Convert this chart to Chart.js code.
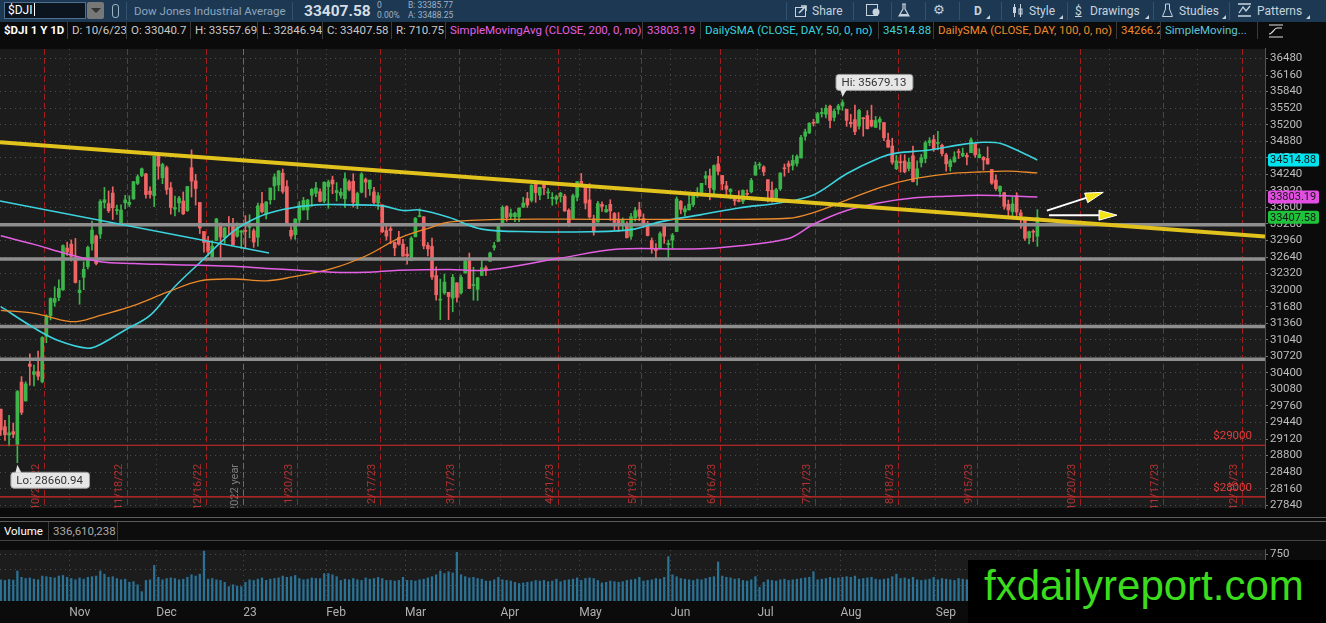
<!DOCTYPE html>
<html>
<head>
<meta charset="utf-8">
<script src="https://cdn.jsdelivr.net/npm/chart.js@4.4.0/dist/chart.umd.min.js"></script>
<style>
  body { margin: 0; width: 1326px; height: 623px; overflow: hidden; position: relative; background: #0b0b0b;
         font-family: Roboto, 'Open Sans', sans-serif; }
  .abs { position: absolute; white-space: nowrap; }
  #bar1 { left: 0; top: 0; width: 1326px; height: 22px; background: #1c3853; }
  #bar2 { left: 0; top: 22px; width: 1326px; height: 18px; background: #0b0b0b; }
  .sep1 { position: absolute; top: 2px; width: 1px; height: 18px; background: #34516d; }
  .seg { position: absolute; top: 0; height: 17px; border-right: 1px solid #3a3a3a; overflow: hidden;
         font-size: 11.5px; line-height: 17px; color: #c9c9c9; padding-left: 4px; box-sizing: border-box; }
  .tb { position: absolute; top: 3px; font-size: 12px; line-height: 16px; color: #c6d3df; }
  .corner { position: absolute; top: 15px; width: 0; height: 0; border-left: 4px solid transparent; border-bottom: 4px solid #c6d3df; }
  .small { font-size: 8.5px; line-height: 9.5px; color: #9fb2c4; }
  #volhdr { left: 0; top: 522px; width: 1326px; height: 19px; background: #0d0d0d; border-bottom: 1px solid #444; box-sizing: border-box; }
  #wm { left: 968px; top: 560px; width: 358px; height: 63px; background: #000; }
  #wm span { position: absolute; left: 16px; top: 2px; font-family: 'Liberation Sans', Arial, sans-serif; font-size: 42px; color: #3bdc1e; }
</style>
</head>
<body>

<div id="bar1" class="abs">
  <div class="abs" style="left:4px;top:2px;width:82px;height:17px;background:#0c141d;border:1px solid #50708f;box-sizing:border-box;"></div>
  <div class="abs" style="left:8px;top:3px;font-size:12px;color:#fff;">$DJI<span style="display:inline-block;width:1px;height:13px;background:#fff;vertical-align:-2px;margin-left:1px"></span></div>
  <div class="abs" style="left:87px;top:2px;width:17px;height:17px;background:#777;border-radius:2px;"></div>
  <div class="abs" style="left:91px;top:8px;width:0;height:0;border-left:5px solid transparent;border-right:5px solid transparent;border-top:5px solid #333;"></div>
  <div class="abs" style="left:112px;top:4px;width:5px;height:12px;border:1px solid #9fb2c4;border-radius:3px;"></div>
  <div class="sep1" style="left:126px"></div>
  <div class="tb" style="left:134px;font-size:11.5px;color:#8ea5bc;">Dow Jones Industrial Average</div>
  <div class="sep1" style="left:292px"></div>
  <div class="tb" style="left:304px;top:1px;font-size:15.5px;line-height:20px;font-weight:bold;color:#d5dde5;">33407.58</div>
  <div class="abs small" style="left:377px;top:1px;">0<br>0.00%</div>
  <div class="abs small" style="left:408px;top:1px;">B: 33385.77<br>A: 33488.25</div>

  <div class="sep1" style="left:786px"></div>
  <svg class="abs" style="left:795px;top:4px" width="13" height="13" viewBox="0 0 13 13"><rect x="0.5" y="3.5" width="10" height="9" fill="none" stroke="#c6d3df"/><path d="M4 9 L10 3 M6 2 L11 2 L11 7" stroke="#c6d3df" stroke-width="1.6" fill="none"/></svg>
  <div class="tb" style="left:812px;">Share</div>
  <div class="sep1" style="left:853px"></div>
  <svg class="abs" style="left:866px;top:4px" width="14" height="13" viewBox="0 0 14 13"><rect x="0.5" y="0.5" width="11" height="11" fill="none" stroke="#c6d3df"/><circle cx="10" cy="8" r="3.5" fill="#c6d3df"/></svg>
  <div class="sep1" style="left:891px"></div>
  <svg class="abs" style="left:898px;top:3px" width="12" height="15" viewBox="0 0 12 15"><path d="M4 1 L8 1 M5 1 L5 6 L1 13 L11 13 L7 6 L7 1" stroke="#c6d3df" fill="none" stroke-width="1.2"/><path d="M2.5 11 L9.5 11 L10.5 13 L1.5 13 Z" fill="#c6d3df"/></svg>
  <div class="sep1" style="left:925px"></div>
  <div class="tb" style="left:933px;top:2px;font-family:'DejaVu Sans';font-size:13px;">&#9881;</div>
  <div class="sep1" style="left:959px"></div>
  <div class="tb" style="left:974px;font-weight:bold;font-size:12px;">D</div>
  <div class="corner" style="left:986px"></div>
  <div class="sep1" style="left:1001px"></div>
  <svg class="abs" style="left:1012px;top:4px" width="11" height="13" viewBox="0 0 11 13"><path d="M2.5 0 L2.5 13 M8.5 0 L8.5 13" stroke="#c6d3df"/><rect x="1" y="3" width="3" height="6" fill="#c6d3df"/><rect x="7" y="5" width="3" height="5" fill="none" stroke="#c6d3df"/></svg>
  <div class="tb" style="left:1029px;">Style</div>
  <div class="corner" style="left:1059px"></div>
  <div class="sep1" style="left:1067px"></div>
  <div class="tb" style="left:1075px;text-decoration:underline;">$</div>
  <div class="tb" style="left:1090px;">Drawings</div>
  <div class="corner" style="left:1145px"></div>
  <div class="sep1" style="left:1153px"></div>
  <svg class="abs" style="left:1162px;top:3px" width="11" height="15" viewBox="0 0 11 15"><path d="M3.5 1 L3.5 6 L0.5 13.5 L10.5 13.5 L7.5 6 L7.5 1 Z" stroke="#c6d3df" fill="none"/></svg>
  <div class="tb" style="left:1179px;">Studies</div>
  <div class="corner" style="left:1222px"></div>
  <div class="sep1" style="left:1229px"></div>
  <svg class="abs" style="left:1237px;top:3px" width="15" height="14" viewBox="0 0 15 14"><path d="M1 1 L14 1 M1 13 L14 13 M2 10 L6 4 L9 8 L13 3" stroke="#c6d3df" fill="none" stroke-width="1.3"/></svg>
  <div class="tb" style="left:1257px;">Patterns</div>
  <div class="corner" style="left:1306px"></div>
</div>

<div id="bar2" class="abs">
  <div class="seg" style="left:0;width:68px;color:#fff;font-weight:bold;">$DJI 1 Y 1D</div>
  <div class="seg" style="left:68px;width:59px;">D: 10/6/23</div>
  <div class="seg" style="left:127px;width:64px;">O: 33040.7</div>
  <div class="seg" style="left:191px;width:67px;">H: 33557.69</div>
  <div class="seg" style="left:258px;width:65px;">L: 32846.94</div>
  <div class="seg" style="left:323px;width:69px;">C: 33407.58</div>
  <div class="seg" style="left:392px;width:54px;">R: 710.75</div>
  <div class="seg" style="left:446px;width:197px;color:#e35fe3;">SimpleMovingAvg (CLOSE, 200, 0, no)</div>
  <div class="seg" style="left:643px;width:58px;color:#e35fe3;">33803.19</div>
  <div class="seg" style="left:701px;width:178px;color:#3cd3de;">DailySMA (CLOSE, DAY, 50, 0, no)</div>
  <div class="seg" style="left:879px;width:55px;color:#3cd3de;">34514.88</div>
  <div class="seg" style="left:934px;width:183px;color:#ec8a2c;">DailySMA (CLOSE, DAY, 100, 0, no)</div>
  <div class="seg" style="left:1117px;width:44px;color:#ec8a2c;">34266.2</div>
  <div class="seg" style="left:1161px;width:97px;color:#5fc4d6;">SimpleMoving...</div>
  <svg class="abs" style="left:1268px;top:2px" width="16" height="14" viewBox="0 0 16 14"><path d="M1 1 L15 1 M1 13 L15 13 M1 10 C5 10 6 4 9 4 L14 4" stroke="#e0e0e0" fill="none" stroke-width="1.2"/></svg>
</div>

<canvas id="price" class="abs" style="left:0;top:40px" width="1326" height="477"></canvas>
<div class="abs" style="left:0;top:517px;width:1326px;height:5px;background:#0b0b0b;border-top:1px solid #5c5c5c;border-bottom:1px solid #5c5c5c;box-sizing:border-box;"></div>
<div id="volhdr" class="abs">
  <div class="seg" style="left:0;width:49px;height:18px;line-height:18px;color:#fff;">Volume</div>
  <div class="seg" style="left:49px;width:69px;height:18px;line-height:18px;color:#aaa;">336,610,238</div>
</div>
<canvas id="vol" class="abs" style="left:0;top:541px" width="1326" height="82"></canvas>
<div id="wm" class="abs"><span>fxdailyreport.com</span></div>

<script>
// ---- daily candles, 10/7/22 .. 10/6/23 (one entry per trading day)
const opens = [
  29697,29358,29197,29262,29016,30221,29856,30570,30369,30424,30230,31107,31506,31765,31860,32007,32815,
  32890,32636,31950,32248,32455,32903,33049,33086,33694,33675,33878,33540,33296,33690,33659,33763,34064,34216,34247,33914,33825,
  34595,34174,34370,33979,33567,33686,33724,33537,34369,34114,33695,33134,32943,32646,32961,33295,33016,33255,33263,33043,33121,
  33148,33215,33149,33023,33673,33472,33748,34016,34036,34262,34003,33158,33073,33357,33551,33552,33836,33875,33903,33721,
  34001,34132,33886,33833,33765,34096,34105,33671,33895,34140,33958,33900,33685,33649,33152,33186,32923,33019,32890,
  32696,32572,33031,33421,33417,32868,32845,32283,31806,31947,31958,31845,32142,31949,32330,32568,32089,32014,32284,32432,32560,32826,32942,
  33258,33614,33425,33419,33419,33603,33771,33736,34064,33836,34066,33880,33774,33757,33809,33816,33546,33389,33797,
  34104,33984,33745,33380,33316,33659,33512,33660,33482,33356,33296,33290,33040,33400,33556,33385,33246,32957,32799,32800,33241,32880,
  32969,33133,33719,33515,33553,33653,33848,33893,34164,34211,33946,34441,34217,34019,33907,33821,33726,33719,33866,33901,34223,
  34415,34384,34136,33930,33746,33958,34366,34447,34413,34452,34555,34977,35042,35247,35233,35416,35402,35558,35342,35494,
  35560,35500,35247,35298,35174,35315,35376,35288,35148,35250,35241,34904,34788,34349,34473,34497,34353,34600,34174,34468,34547,34853,34911,
  34838,34802,34614,34388,34482,34672,34596,34606,34658,34831,34564,34567,34546,34334,34129,33912,33886,33660,33519,33820,
  33495,33372,33013,33132,33040.7
];
const highs = [
  29697,29480,29578,29430,30060,30328,30228,30767,30550,30822,31100,31525,31852,32065,32199,32878,32928,
  32972,33000,32188,32548,32850,33337,33065,33750,33987,33918,33998,33644,33649,33834,33826,34104,34233,34362,34260,34000,34590,
  34595,34455,34401,34083,33821,33813,33899,34005,34712,34243,33695,33134,33039,32956,33391,33297,33216,33425,33387,33300,33152,
  33441,33458,33187,33682,33892,33713,33975,34250,34319,34342,34120,33227,33381,33713,33795,33757,33966,34083,33960,34097,
  34127,34205,34079,33965,34268,34129,34252,33895,34273,34171,34128,33989,33885,33649,33264,33274,32932,33136,32981,
  32834,33032,33405,33573,33424,32918,33009,32451,32215,32310,31958,32304,32142,32291,32589,32717,32444,32248,32575,32470,32736,32924,33281,
  33632,33632,33570,33509,33590,33796,33890,34040,34120,33994,34087,33962,33886,33838,33892,33855,33571,33856,34104,
  34257,33992,34062,33450,33716,33709,33639,33749,33504,33500,33395,33328,33485,33600,33700,33476,33330,33009,32899,33128,33262,32968,
  33097,33802,33734,33626,33835,33870,33983,34066,34296,34343,34426,34589,34218,34104,33964,33831,33923,33939,33940,34163,34479,
  34469,34405,34136,34096,33969,34275,34439,34498,34612,34618,34994,35114,35241,35304,35438,35519,35577,35578,35504,35596,
  35679.13,35500,35400,35579,35495,35341,35473,35578,35361,35350,35241,35038,34938,34609,34619,34620,34554,34788,34500,34625,34884,34949,34997,
  35070,34824,34646,34534,34676,34727,34748,34651,34947,34831,34734,34585,34771,34334,34230,34019,33886,33742,33801,33886,
  33552,33372,33140,33167,33557.69
];
const lows = [
  29191,29095,28985,29145,28660.94,29593,29856,30160,30145,30265,30206,30982,31424,31689,31798,31995,32670,
  32562,32137,31727,32009,32410,32771,32490,33000,33587,33502,33366,33464,33260,33574,33616,33760,34039,34195,33781,33781,33615,
  34145,34059,33853,33470,33434,33515,33461,33524,33801,33645,33093,32734,32671,32573,32961,32574,32904,33075,32876,33026,32808,
  32812,33011,32827,32850,33492,33378,33662,33748,33920,33873,33280,32984,32982,33287,33550,33362,33621,33807,33708,33690,
  33582,33866,33724,33778,33600,33920,33606,33575,33880,33796,33832,33666,33563,33112,32966,32897,32665,32870,32656,
  32501,32568,33031,33416,32799,32662,32208,31805,31429,31917,31429,31581,31768,31920,32330,32030,31806,31802,32284,32283,32560,32774,32939,
  33242,33332,33379,33324,33324,33601,33600,33705,33698,33747,33846,33768,33641,33665,33704,33522,33235,33389,33725,
  34031,33570,33389,33062,33316,33522,33506,33347,33168,33130,33161,33012,32979,33335,33342,33212,33048,32714,32586,32793,32904,32586,
  32811,33133,33477,33437,33548,33615,33792,33841,34037,33747,33854,34229,33941,33842,33765,33643,33704,33672,33777,33881,34223,
  34343,34216,33705,33703,33738,33928,34203,34275,34322,34400,34555,34901,35027,35175,35233,35347,35333,35139,35271,35406,
  35478,35169,35150,35005,35113,34978,35114,35157,35148,35107,34893,34759,34435,34330,34282,34268,34304,34093,34029,34381,34462,34792,34684,
  34712,34596,34302,34303,34470,34545,34580,34424,34658,34569,34557,34321,34436,34046,33928,33802,33565,33421,33383,33422,
  33197,32961,32896,32940,32846.94
];
const closes = [
  29297,29203,29240,29211,30039,29635,30186,30524,30424,30334,31083,31500,31837,31839,32034,32861,32733,
  32653,32148,32001,32403,32827,33161,32514,33716,33748,33537,33593,33554,33547,33746,33700,34098,34195,34347,33850,33853,34590,
  34395,34430,33947,33597,33598,33781,33476,34005,34108,33966,33203,32920,32757,32850,33376,33027,33204,33241,32876,33221,33147,
  33136,33270,32930,33631,33518,33704,33974,34190,34303,33910,33297,33045,33375,33630,33734,33744,33949,33978,33717,34086,
  34093,34054,33926,33891,34156,33949,33699,33869,34246,34089,34128,33697,33827,33130,33045,33154,32817,32889,32657,
  32662,33004,33391,33432,32856,32798,32254,31910,31820,32155,31875,32247,31862,32245,32561,32031,32106,32238,32433,32395,32718,32860,33274,
  33602,33403,33483,33485,33587,33685,33647,34030,33887,33988,33977,33897,33787,33809,33876,33531,33302,33827,34098,
  34052,33684,33415,33128,33675,33619,33562,33531,33310,33301,33349,33012,33420,33535,33427,33286,33056,32800,32765,33093,33043,32908,
  33061,33762,33563,33573,33665,33833,33876,34066,34212,33979,34408,34299,34054,33952,33947,33727,33715,33927,33853,34122,34408,
  34418,34288,33922,33735,33944,34262,34347,34395,34509,34586,34952,35061,35225,35228,35411,35438,35520,35283,35459,35560,
  35630,35283,35216,35066,35474,35314,35123,35176,35281,35308,34946,34766,34474,34501,34464,34289,34473,34099,34346,34560,34852,34890,34722,
  34838,34642,34443,34501,34577,34663,34646,34576,34907,34618,34625,34518,34441,34070,33964,34007,33619,33551,33667,33508,
  33433,33002,33129,33120,33407.58
];
// volume, millions of shares
const volumes = [
  340,330,345,335,480,380,360,370,350,340,400,390,380,370,400,410,380,
  360,340,370,350,380,390,400,480,430,380,390,360,340,350,300,310,260,150,330,340,570,
  380,340,360,370,360,340,350,380,420,400,430,800,350,360,340,330,300,230,260,240,230,
  300,340,330,350,370,330,350,360,370,400,380,390,410,360,340,350,370,360,360,440,
  440,420,390,330,350,340,360,340,330,370,350,360,380,360,330,330,320,330,380,
  330,330,320,340,350,370,390,420,480,440,470,450,780,420,390,370,380,360,350,320,320,340,380,
  340,330,320,300,280,290,300,310,330,320,330,310,320,350,310,330,340,350,370,
  330,360,370,360,330,290,300,320,310,300,310,330,340,350,380,320,330,340,360,350,380,710,
  420,390,360,350,340,330,350,340,360,380,390,625,400,380,370,350,360,330,320,340,390,
  220,300,340,330,320,340,350,330,340,350,360,370,380,470,340,350,360,380,360,370,
  380,390,380,400,350,360,370,380,350,340,350,360,390,430,360,370,350,380,340,330,340,350,380,
  340,360,350,340,330,360,350,340,380,560,330,320,350,360,400,380,370,380,360,390,
  360,380,350,340,337
];
// moving averages: [trading-day index, value]
const sma200 = [[0,33050],[8,32885],[16,32700],[24,32550],[32,32515],[40,32495],[48,32480],[56,32460],[64,32420],[72,32385],[80,32345],[88,32345],[96,32385],[108,32400],[117,32385],[134,32605],[149,32795],[167,32795],[177,32850],[190,33000],[196,33275],[204,33540],[212,33690],[220,33780],[228,33815],[236,33835],[250,33803.19]];
const sma100 = [[0,31610],[8,31550],[16,31400],[19,31400],[24,31510],[32,31700],[40,31955],[48,32180],[56,32215],[64,32180],[70,32250],[80,32420],[88,32660],[96,33000],[104,33220],[108,33315],[120,33370],[145,33370],[169,33370],[190,33390],[196,33500],[204,33740],[212,33985],[220,34150],[228,34245],[236,34285],[243,34300],[250,34266.2]];
const sma50 = [[0,31680],[8,31270],[14,31020],[21,30875],[24,30950],[30,31230],[36,31510],[42,32070],[48,32530],[56,33130],[62,33410],[68,33560],[76,33650],[84,33650],[92,33630],[97,33540],[101,33550],[108,33410],[116,33180],[128,33130],[142,33130],[152,33170],[159,33320],[169,33460],[178,33590],[188,33690],[196,33840],[204,34250],[212,34560],[216,34650],[224,34710],[232,34820],[237,34860],[241,34840],[246,34670],[250,34514.88]];

// axis ticks
const priceTicks = [27840,28160,28480,28800,29120,29440,29760,30080,30400,30720,31040,31360,31680,32000,32320,32640,32960,33280,33600,33920,34240,34560,34880,35200,35520,35840,36160,36480];
const volumeTicks = [250, 500, 750];
// time axis: first trading day of each month, option-expiry Fridays (incl. future ones)
const monthStarts = [17,38,59,79,98,121,140,162,183,203,226,246,268,289];
const monthNames  = ['Nov','Dec','23','Feb','Mar','Apr','May','Jun','Jul','Aug','Sep','Oct','Nov','Dec'];
const expiryIdx   = [10,30,49,71,91,110,134,154,173,196,216,235,260,280,299];
const expiryNames = ['10/21/22','11/18/22','12/16/22','1/20/23','2/17/23','3/17/23','4/21/23','5/19/23','6/16/23','7/21/23','8/18/23','9/15/23','10/20/23','11/17/23','12/15/23'];
const yearBreak = 58.5;

// drawings
const supportLevels = [33263, 32601, 31298, 30665];
const alertLevels = [29000, 28000];
const X_MIN = -0.19, X_MAX = 304.9;
const yellowTrend = [[X_MIN, 34860], [X_MAX, 33035]];
const cyanTrend = [[X_MIN, 33724], [64.7, 32719]];
const arrows = [[[252.3, 33538], [265.9, 33892]], [[252.8, 33450], [269.2, 33450]]];

if ([opens, highs, lows, volumes].some(a => a.length !== closes.length)) throw new Error('length mismatch');

const FONT = "Roboto, 'Open Sans', sans-serif";
const GREEN = '#3cb64a', RED = '#ef6464';
const CYAN = '#3cd3de', ORANGE = '#ec8a2c', MAGENTA = '#e35fe3';
const idx = closes.map((_, i) => i);
const candleColor = ctx => closes[ctx.dataIndex] >= opens[ctx.dataIndex] ? GREEN : RED;

const paneBg = {
  id: 'paneBg',
  beforeDraw(chart) {
    const { ctx, chartArea: a } = chart;
    ctx.save();
    ctx.fillStyle = '#1c1c1c';
    ctx.fillRect(a.left, a.top, a.right - a.left, a.bottom - a.top);
    ctx.restore();
  }
};

function drawArrow(ctx, x1, y1, x2, y2) {
  const ang = Math.atan2(y2 - y1, x2 - x1), L = 18, W = 5;
  const bx = x2 - L * Math.cos(ang), by = y2 - L * Math.sin(ang);
  ctx.strokeStyle = '#fff';
  ctx.lineWidth = 2;
  ctx.beginPath(); ctx.moveTo(x1, y1); ctx.lineTo(bx, by); ctx.stroke();
  ctx.beginPath();
  ctx.moveTo(x2, y2);
  ctx.lineTo(bx + W * Math.sin(ang), by - W * Math.cos(ang));
  ctx.lineTo(bx - W * Math.sin(ang), by + W * Math.cos(ang));
  ctx.closePath();
  ctx.fillStyle = '#f4e414'; ctx.fill();
  ctx.lineWidth = 1; ctx.stroke();
}

function callout(ctx, text, px, py, above) {
  ctx.font = '11.5px ' + FONT;
  const w = ctx.measureText(text).width + 12, h = 16;
  const left = px - 7, top = above ? py - 26 : py + 9;
  ctx.fillStyle = '#e6e6e6';
  ctx.strokeStyle = '#9a9a9a';
  ctx.lineWidth = 1;
  ctx.beginPath();
  ctx.roundRect(left + 0.5, top + 0.5, w, h, 3);
  ctx.fill(); ctx.stroke();
  ctx.beginPath();
  if (above) { ctx.moveTo(px - 2, top + h); ctx.lineTo(px + 4, top + h); ctx.lineTo(px, py - 3); }
  else { ctx.moveTo(px - 2, top + 1); ctx.lineTo(px + 4, top + 1); ctx.lineTo(px, py + 2); }
  ctx.closePath(); ctx.fill();
  ctx.fillStyle = '#333';
  ctx.textBaseline = 'middle';
  ctx.textAlign = 'left';
  ctx.fillText(text, left + 6, top + h / 2 + 1);
}

function axisTag(ctx, chart, value, bg, text) {
  const y = chart.scales.y.getPixelForValue(value);
  ctx.fillStyle = bg;
  ctx.beginPath();
  ctx.roundRect(1268, y - 6.5, 51, 13, 2);
  ctx.fill();
  ctx.fillStyle = '#151515';
  ctx.font = '11px ' + FONT;
  ctx.textAlign = 'left';
  ctx.textBaseline = 'middle';
  ctx.fillText(text, 1270, y + 0.5);
}

const priceMarks = {
  id: 'priceMarks',
  beforeDatasetsDraw(chart) {
    const { ctx, chartArea: a, scales: { x } } = chart;
    ctx.save();
    ctx.beginPath(); ctx.rect(a.left, a.top, a.right - a.left, a.bottom - a.top); ctx.clip();
    ctx.font = '11px ' + FONT;
    const vline = (px, color, label, textColor) => {
      ctx.strokeStyle = color; ctx.lineWidth = 1; ctx.setLineDash([6, 3]);
      ctx.beginPath(); ctx.moveTo(px + 0.5, a.top); ctx.lineTo(px + 0.5, a.bottom); ctx.stroke();
      ctx.setLineDash([]);
      ctx.save();
      ctx.translate(px - 2, a.top + 415);
      ctx.rotate(-Math.PI / 2);
      ctx.fillStyle = textColor; ctx.textAlign = 'right'; ctx.textBaseline = 'bottom';
      ctx.fillText(label, 0, 0);
      ctx.restore();
    };
    expiryIdx.forEach((v, i) => vline(Math.round(x.getPixelForValue(v + 0.4)), '#a11e1e', expiryNames[i], '#b33232'));
    vline(Math.round(x.getPixelForValue(yearBreak)), '#6a6a6a', '2022 year', '#7d7d7d');
    ctx.restore();
  },
  afterDatasetsDraw(chart) {
    const { ctx, scales: { x, y } } = chart;
    ctx.save();
    ctx.font = '11.5px ' + FONT;
    ctx.fillStyle = '#e83c3c';
    ctx.textAlign = 'right';
    ctx.textBaseline = 'bottom';
    alertLevels.forEach(v => ctx.fillText('$' + v, 1252, y.getPixelForValue(v) - 3));
    arrows.forEach(([p, q]) => drawArrow(ctx, x.getPixelForValue(p[0]), y.getPixelForValue(p[1]), x.getPixelForValue(q[0]), y.getPixelForValue(q[1])));
    const hiI = highs.indexOf(Math.max(...highs)), loI = lows.indexOf(Math.min(...lows));
    callout(ctx, 'Hi: ' + highs[hiI].toFixed(2), x.getPixelForValue(hiI), y.getPixelForValue(highs[hiI]), true);
    callout(ctx, 'Lo: ' + lows[loI].toFixed(2), x.getPixelForValue(loI), y.getPixelForValue(lows[loI]), false);
    const last = closes.length - 1;
    axisTag(ctx, chart, sma50[sma50.length - 1][1], '#00e4f0', sma50[sma50.length - 1][1].toFixed(2));
    axisTag(ctx, chart, sma200[sma200.length - 1][1], '#e24ee2', sma200[sma200.length - 1][1].toFixed(2));
    axisTag(ctx, chart, closes[last], '#1fc23a', closes[last].toFixed(2));
    ctx.restore();
  }
};

const pts = arr => arr.map(([x, y]) => ({ x, y }));
const hline = v => [{ x: X_MIN, y: v }, { x: X_MAX, y: v }];
const lineDs = (data, color, width, order, tension) => ({
  type: 'line', data, borderColor: color, borderWidth: width, pointRadius: 0, tension: tension || 0, order
});

const gridCommon = { color: '#4b4b4b', offset: false };
const monthTicks = s => { s.ticks = monthStarts.map(v => ({ value: v - 0.5 })); };
const fixedTicks = list => s => { s.ticks = list.map(v => ({ value: v })); };
const axisFont = { size: 11.5 };

Chart.defaults.font.family = FONT;

new Chart(document.getElementById('price'), {
  type: 'bar',
  data: {
    datasets: [
      { type: 'bar', data: idx.map(i => ({ x: i, y: [lows[i], highs[i]] })), backgroundColor: candleColor, barThickness: 1, grouped: false, order: 10 },
      { type: 'bar', data: idx.map(i => ({ x: i, y: [opens[i], closes[i]] })), backgroundColor: candleColor, barThickness: 3, minBarLength: 1, grouped: false, order: 9 },
      ...supportLevels.map(v => lineDs(hline(v), '#8e8e8e', 3.5, 6)),
      ...alertLevels.map(v => lineDs(hline(v), '#d42a2a', 1.2, 6)),
      lineDs(pts(sma200), MAGENTA, 1.5, 5, 0.35),
      lineDs(pts(sma100), ORANGE, 1.3, 5, 0.35),
      lineDs(pts(sma50), CYAN, 1.6, 5, 0.35),
      lineDs(pts(cyanTrend), CYAN, 1.4, 3),
      lineDs(pts(yellowTrend), '#e2c21c', 4, 2)
    ]
  },
  options: {
    responsive: false,
    animation: false,
    events: [],
    layout: { padding: 0 },
    plugins: { legend: { display: false }, tooltip: { enabled: false } },
    scales: {
      x: {
        type: 'linear', min: X_MIN, max: X_MAX, offset: false,
        afterBuildTicks: monthTicks,
        afterFit: s => { s.height = 0; },
        grid: { ...gridCommon, drawTicks: false },
        border: { display: false, dash: [1, 4] },
        ticks: { display: false }
      },
      y: {
        position: 'right', min: 27784, max: 36666,
        afterBuildTicks: fixedTicks(priceTicks),
        afterFit: s => { s.width = 61; },
        grid: { ...gridCommon, tickLength: 3, tickColor: '#777' },
        border: { display: true, color: '#555', dash: [1, 4] },
        ticks: { autoSkip: false, color: '#bdbdbd', padding: 2, font: axisFont, callback: v => String(v) }
      }
    }
  },
  plugins: [paneBg, priceMarks]
});

new Chart(document.getElementById('vol'), {
  type: 'bar',
  data: {
    datasets: [{ data: idx.map(i => ({ x: i, y: volumes[i] })), backgroundColor: '#2a7296', barThickness: 1.6 }]
  },
  options: {
    responsive: false,
    animation: false,
    events: [],
    layout: { padding: 0 },
    plugins: { legend: { display: false }, tooltip: { enabled: false } },
    scales: {
      x: {
        type: 'linear', min: X_MIN, max: X_MAX, offset: false,
        afterBuildTicks: monthTicks,
        afterFit: s => { s.height = 22; },
        grid: { ...gridCommon, drawTicks: false },
        border: { display: false, dash: [1, 4] },
        ticks: { autoSkip: false, maxRotation: 0, align: 'start', padding: 5, color: '#b0b0b0', font: { size: 12 }, callback: (v, i) => monthNames[i] }
      },
      y: {
        position: 'right', min: 0, max: 819,
        afterBuildTicks: fixedTicks(volumeTicks),
        afterFit: s => { s.width = 61; },
        grid: { ...gridCommon, tickLength: 3, tickColor: '#777' },
        border: { display: true, color: '#555', dash: [1, 4] },
        ticks: { autoSkip: false, color: '#bdbdbd', padding: 2, font: axisFont, callback: v => String(v) }
      }
    }
  },
  plugins: [paneBg]
});
</script>
</body>
</html>
